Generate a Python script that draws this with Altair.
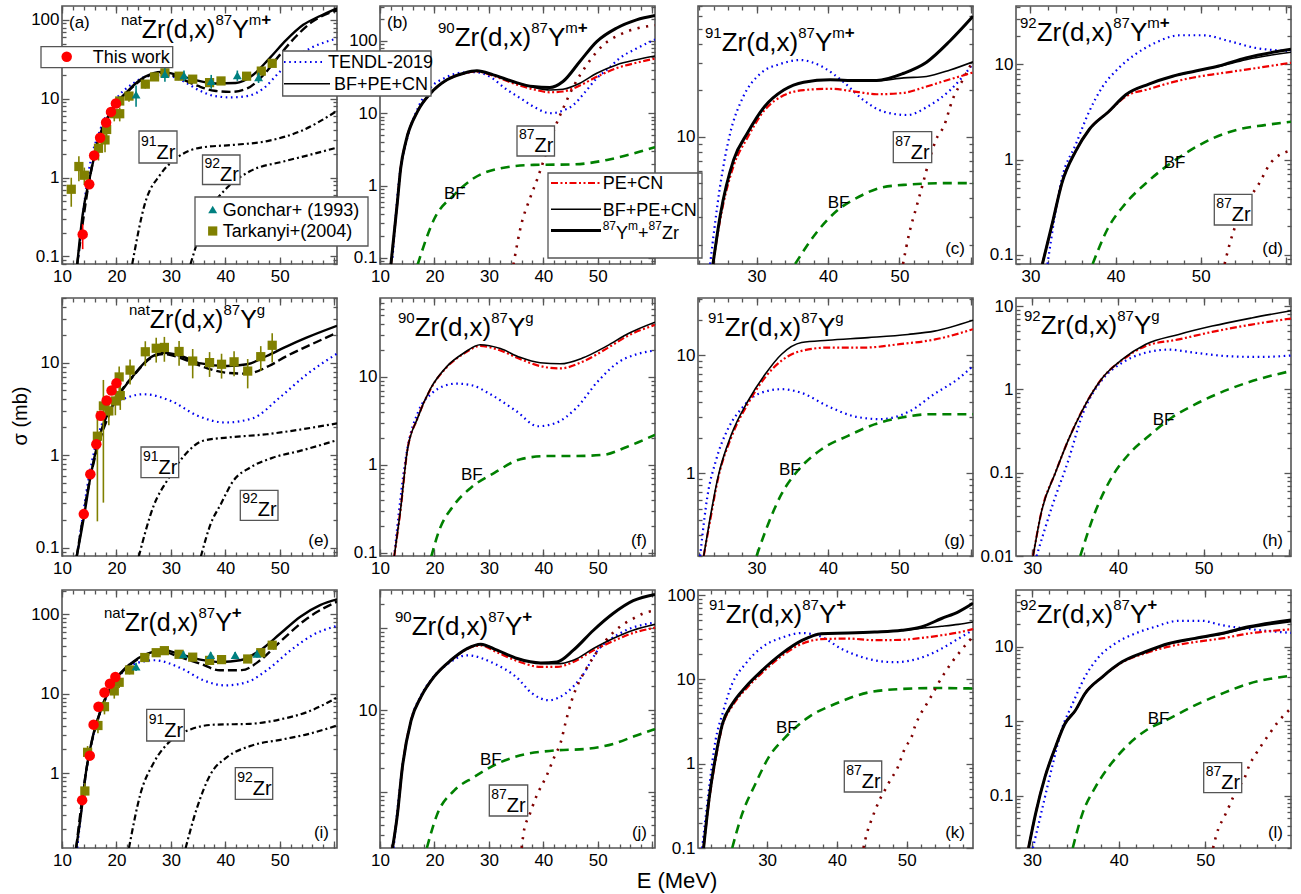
import altair as alt
import pandas as pd

FONT = "Liberation Sans"
W, H = 275, 258
FRAME = "#555555"

# ===================== DATA =====================
# (a) natZr(d,x)87Ym+
a_sol_E = [12.8, 13.8, 15.1, 16.6, 19.1, 22.2, 25.2, 28.3, 31.4, 34.5, 38.2, 41.9, 45.0, 48.1, 51.2, 54.3, 57.4, 60.5]
a_sol = [0.08, 0.34, 1.0, 2.9, 7.1, 12.8, 18.9, 21.9, 19.8, 17.2, 15.6, 15.8, 19.8, 32.5, 55.7, 86.5, 112, 140]
a_dsh_E = [12.8, 15.1, 19.1, 22.2, 25.2, 28.3, 31.4, 35.0, 38.0, 41.0, 44.0, 47.0, 50.0, 53.0, 56.0, 60.5]
a_dsh = [0.08, 1.0, 7.0, 12.5, 18.5, 21.3, 18.5, 14.5, 12.6, 12.2, 13.5, 20, 36, 62, 95, 132]
a_ten_E = [13, 15, 17, 20, 23, 26, 29, 32, 35, 38, 41, 44, 47, 50, 53, 56, 60.5]
a_ten = [0.1, 1.3, 4.0, 10, 15.5, 19.5, 20, 17, 13, 10.8, 10.4, 10.8, 13.5, 22, 34, 45, 58]
a_z91_E = [22.9, 25.2, 28.1, 31.2, 35.5, 41.6, 47.7, 53.9, 60.5]
a_z91 = [0.08, 0.46, 1.1, 1.8, 2.4, 2.6, 2.9, 3.9, 7.0]
a_z92_E = [33.6, 36.7, 40.3, 44.5, 50.7, 55.0, 60.5]
a_z92 = [0.08, 0.34, 0.74, 1.2, 1.6, 1.9, 2.4]
a_tw_E = [13.8, 15.0, 15.9, 17.0, 18.1, 19.0, 19.9]
a_tw = [0.19, 0.82, 1.9, 3.2, 5.0, 6.8, 8.7]
a_tw_err = [0.35, 0.12, 0.1, 0.1, 0.1, 0.1, 0.1]
a_tk_E = [11.7, 13.1, 14.1, 16.7, 17.9, 18.2, 19.6, 20.6, 20.6, 22.3, 25.3, 27.0, 28.9, 31.5, 34.0, 37.1, 39.2, 43.9, 46.6, 48.6]
a_tk = [0.71, 1.38, 1.07, 2.35, 3.0, 4.07, 6.45, 9.35, 6.45, 10.8, 15.3, 18.9, 21.3, 19.3, 17.7, 16.0, 16.8, 19.3, 22.4, 28.1]
a_tk_err = [0.4, 0.35, 0.25, 0.3, 0.3, 0.25, 0.2, 0.15, 0.2, 0.15, 0.12, 0.1, 0.1, 0.1, 0.1, 0.1, 0.1, 0.1, 0.1, 0.1]
a_gn_E = [23.6, 28.9, 32.4, 37.4, 42.2, 46.1]
a_gn = [11.3, 20.5, 19.8, 16.7, 19.8, 18.6]
a_gn_err = [0.3, 0.2, 0.15, 0.2, 0.15, 0.15]

# (b) 90Zr(d,x)87Ym+
b_E = [12.0, 13.2, 13.8, 14.75, 16.9, 19.3, 22.3, 25.4, 27.8, 30.8, 34.4, 38.1, 41.2, 43.6, 46.7, 49.8, 53.4, 57.1, 60.5]
b_tot = [0.08, 0.6, 1.73, 4.06, 10.6, 18.9, 29, 35.8, 38.6, 34, 27.5, 23.4, 22.7, 27.5, 52, 98, 150, 196, 225]
b_bpc = [0.08, 0.6, 1.73, 4.06, 10.6, 18.9, 29, 35.8, 38.6, 34, 27.5, 23.0, 21.0, 21.5, 26, 35.8, 46.7, 55, 62]
b_pc = [0.08, 0.6, 1.73, 4.06, 10.6, 18.9, 29, 35.5, 37.8, 33, 26, 21.5, 19.5, 20, 24.2, 32, 42, 50, 57]
b_ten_E = [12.3, 13.5, 15, 17, 19.3, 22, 25, 27.5, 30.5, 33, 35.8, 38.5, 41.2, 43.5, 45.5, 47.5, 49.8, 52, 54, 57, 60.5]
b_ten = [0.1, 1.2, 4.5, 12, 22.7, 31, 36.5, 37, 31, 22, 16.1, 12, 10, 10.8, 13, 19, 30.5, 42, 57.8, 78, 105]
b_bf_E = [16.9, 20, 23.6, 27.2, 32.1, 38.2, 45.5, 51.7, 56, 60.5]
b_bf = [0.08, 0.35, 0.74, 1.26, 1.73, 1.93, 1.96, 2.26, 2.7, 3.4]
b_zr_E = [34.5, 36, 37.5, 39, 40.5, 42, 43.7, 45.6, 48, 51, 54, 57, 60.5]
b_zr = [0.08, 0.3, 0.65, 1.3, 2.8, 6, 12, 24, 47, 88, 122, 148, 165]

# (c) 91Zr(d,x)87Ym+
c_E = [23.9, 24.9, 26.8, 28.7, 31.1, 33.8, 36.6, 40.3, 44, 46.8, 50.6, 53.8, 57.1, 60.3]
c_tot = [1.5, 3.07, 7.1, 10.5, 15.6, 20, 22.5, 23.3, 23.1, 23.1, 25.7, 30.3, 41.7, 60]
c_bpc = [1.5, 3.07, 7.1, 10.5, 15.6, 20, 22.5, 23.3, 23.1, 23.0, 24.0, 24.5, 27, 30.5]
c_pc = [1.5, 2.9, 6.5, 9.8, 14.8, 18.5, 20, 20.4, 19.5, 18.8, 19.2, 21.1, 23.5, 26]
c_ten_E = [23.5, 24.9, 26.3, 28.1, 30.5, 33.3, 36.1, 38.9, 42.2, 45, 47.8, 51.1, 53.9, 57.1, 60.3]
c_ten = [1.5, 4.8, 10.5, 18, 25.5, 29.5, 31.3, 28.8, 22.5, 17.2, 14.5, 13.8, 15.6, 20, 29.5]
c_bf_E = [35.4, 38.4, 41.2, 44.4, 47.6, 51.4, 56, 60.3]
c_bf = [1.5, 2.4, 3.3, 4.1, 4.7, 4.9, 5.0, 5.0]
c_zr_E = [50.5, 51.4, 52.3, 53.2, 54.2, 55.1, 56.3, 57.4, 58.8, 60.3]
c_zr = [1.5, 2.4, 3.4, 4.8, 7.1, 9.5, 11.9, 17.2, 23, 31]

# (d) 92Zr(d,x)87Ym+
d_E = [31.4, 32.6, 33.7, 35.3, 36.9, 39.2, 41.2, 43.9, 46.7, 49.4, 52.1, 55.3, 60.6]
d_tot = [0.08, 0.22, 0.57, 1.22, 2.07, 3.2, 4.8, 6.2, 7.5, 8.5, 9.6, 11.7, 14.4]
d_bpc = [0.08, 0.22, 0.57, 1.22, 2.07, 3.2, 4.8, 6.2, 7.5, 8.5, 9.5, 11.2, 13.4]
d_pc = [0.08, 0.22, 0.57, 1.22, 2.07, 3.2, 4.6, 5.5, 6.5, 7.35, 8.0, 8.8, 10.4]
d_ten_E = [32.0, 33.7, 35.3, 36.9, 38.4, 40.4, 42.3, 44.7, 47.5, 50.3, 53.3, 56.4, 60.6]
d_ten = [0.08, 0.64, 1.43, 3.2, 5.7, 9.2, 12.7, 16.9, 20.2, 20.2, 17.6, 14.9, 13.8]
d_bf_E = [37.3, 39.1, 41.1, 43.8, 46.2, 48.9, 51.6, 54.4, 57.5, 60.6]
d_bf = [0.08, 0.19, 0.34, 0.59, 0.88, 1.27, 1.7, 2.07, 2.3, 2.5]
d_zr_E = [52.8, 53.4, 54.4, 55.2, 56.0, 56.8, 58.2, 60.6]
d_zr = [0.08, 0.13, 0.24, 0.34, 0.43, 0.55, 0.92, 1.25]

# (e) natZr(d,x)87Yg
e_sol_E = [12.7, 14, 15.2, 16.5, 17.6, 19.8, 23.3, 26.3, 28.7, 31.8, 35.5, 40.3, 44, 47.6, 51.3, 54.9, 60.5]
e_sol = [0.08, 0.21, 0.57, 1.3, 2.16, 3.85, 7.5, 11.4, 12.8, 11.8, 9.8, 9.2, 9.6, 11.8, 15, 18.6, 25]
e_dsh_E = [12.7, 15.2, 19.8, 23.3, 26.3, 28.7, 31.8, 35.5, 40, 44, 48, 51.3, 55, 60.5]
e_dsh = [0.08, 0.57, 3.85, 7.4, 11.2, 12.4, 11.2, 9.2, 7.8, 7.6, 9.2, 11.8, 15, 21]
e_ten_E = [13, 15, 17, 19.8, 22, 25, 30, 35, 40, 45, 50, 55, 60.5]
e_ten = [0.1, 0.6, 1.9, 3.6, 4.2, 4.55, 3.85, 2.65, 2.25, 2.5, 4.2, 7.5, 12.5]
e_z91_E = [24.1, 26.9, 29.3, 32.4, 35.9, 40.4, 47.6, 52.5, 60.5]
e_z91 = [0.08, 0.29, 0.53, 0.98, 1.43, 1.55, 1.68, 1.84, 2.2]
e_z92_E = [35.5, 37.3, 39.1, 41.5, 44.5, 48.8, 53.7, 60.5]
e_z92 = [0.08, 0.18, 0.29, 0.53, 0.73, 0.94, 1.11, 1.45]
e_tw_E = [14, 15.2, 16.3, 17.1, 18.2, 19.1, 20.0]
e_tw = [0.23, 0.62, 1.31, 2.66, 3.9, 5.0, 6.0]
e_tw_err = [0.1, 0.08, 0.08, 0.08, 0.08, 0.08, 0.08]
e_tk_E = [16.5, 17.6, 18.6, 19.8, 20.7, 20.5, 22.5, 25.3, 27.3, 28.8, 31.5, 34, 37.1, 39.3, 41.6, 44.1, 46.5, 48.6]
e_tk = [1.6, 3.4, 3.0, 3.85, 4.4, 7.0, 8.3, 13.1, 14.3, 14.6, 13.2, 10.4, 10, 9.6, 10.2, 8.1, 11.6, 15.4]
e_tk_err = [0.88, 0.91, 0.3, 0.3, 0.3, 0.3, 0.3, 0.3, 0.3, 0.3, 0.3, 0.35, 0.3, 0.3, 0.3, 0.35, 0.3, 0.35]

# (f) 90Zr(d,x)87Yg
f_E = [12.6, 13.8, 15, 16.9, 19.3, 22.3, 25.4, 28.4, 32.1, 35.7, 39.4, 43.1, 47.3, 51.6, 55.8, 60.5]
f_bpc = [0.09, 0.32, 1.43, 3.4, 7.4, 13.2, 18.7, 23.2, 21, 16.7, 14.5, 14.1, 16.5, 22.4, 31.6, 42]
f_pc = [0.09, 0.32, 1.43, 3.4, 7.3, 13, 18.4, 22.5, 20, 16, 13.3, 12.5, 15, 21, 30, 39]
f_ten_E = [12.6, 15, 17, 19.5, 21.5, 24, 27, 30, 35, 39, 42, 46, 50, 54, 57, 60.5]
f_ten = [0.09, 1.5, 4.0, 6.5, 7.8, 8.4, 8.0, 6.5, 4.1, 2.75, 2.95, 4.4, 8.9, 15, 18, 20]
f_bf_E = [19.4, 20.8, 23.6, 26.7, 31, 35.8, 40.7, 45.6, 51, 55.3, 60.5]
f_bf = [0.09, 0.175, 0.35, 0.55, 0.81, 1.16, 1.26, 1.26, 1.3, 1.6, 2.2]

# (g) 91Zr(d,x)87Yg
g_bpc_E = [22.6, 23.5, 24.6, 26.5, 28.8, 31.2, 33.5, 36.3, 40, 45.6, 51.2, 54.9, 60.3]
g_bpc = [0.2, 0.42, 0.93, 2.15, 4.1, 6.9, 10.2, 12.8, 13.4, 14.1, 15, 16, 19.8]
g_pc_E = [22.6, 23.5, 24.6, 26.5, 28.8, 31.2, 33.5, 36.3, 40, 45, 50, 55, 60.3]
g_pc = [0.2, 0.4, 0.9, 2.05, 3.9, 6.5, 9.0, 10.9, 11.6, 11.6, 12.4, 13.6, 16.6]
g_ten_E = [22.1, 23.1, 24.3, 26.1, 28, 30.2, 33.5, 36.3, 40, 44.1, 47.3, 51.2, 54.9, 58.2, 60.3]
g_ten = [0.2, 0.63, 1.28, 2.45, 3.6, 4.7, 5.16, 4.8, 3.7, 3.0, 2.88, 3.3, 4.7, 6.3, 8.1]
g_bf_E = [30, 31.6, 33.5, 35.8, 39.1, 42.8, 46.5, 50.3, 54.5, 60.3]
g_bf = [0.2, 0.37, 0.67, 1.06, 1.6, 2.08, 2.6, 2.97, 3.17, 3.17]

# (h) 92Zr(d,x)87Yg
h_E = [30.1, 31.1, 32.7, 34.3, 35.8, 38.2, 40.5, 43.2, 47.1, 51, 55.6, 60.2]
h_bpc = [0.01, 0.035, 0.1, 0.26, 0.55, 1.38, 2.29, 3.46, 4.57, 5.75, 7.2, 8.8]
h_pc = [0.01, 0.035, 0.1, 0.26, 0.55, 1.38, 2.25, 3.3, 3.98, 4.9, 6.0, 7.1]
h_ten_E = [30.5, 32.4, 34.3, 35.8, 38.2, 40.5, 43.2, 45.9, 49, 52.9, 56.5, 60.2]
h_ten = [0.01, 0.042, 0.15, 0.48, 1.32, 2.09, 2.75, 3.0, 2.75, 2.5, 2.45, 2.55]
h_bf_E = [35.6, 37.4, 39.3, 41.3, 43.6, 46.3, 49, 52.9, 56.8, 60.2]
h_bf = [0.01, 0.035, 0.089, 0.168, 0.276, 0.46, 0.66, 1.0, 1.36, 1.66]

# (i) natZr(d,x)87Y+
i_sol_E = [12.6, 13.5, 14.4, 15.6, 17.1, 19.5, 22.6, 25.7, 28.7, 31.7, 35.4, 39.1, 42.7, 46.4, 50.1, 53.7, 57.4, 60.5]
i_sol = [0.115, 0.31, 1.03, 2.8, 6.2, 14, 24.1, 32.2, 35.4, 31.5, 27, 25.2, 26.5, 35.4, 57.5, 93, 131, 155]
i_dsh_E = [12.6, 14.4, 17.1, 19.5, 22.6, 25.7, 28.7, 31.7, 35.4, 39, 43, 46.4, 50, 55, 60.5]
i_dsh = [0.115, 1.03, 6.2, 13.8, 23.5, 31, 33.5, 29, 24, 19.8, 19.9, 26.5, 45, 89, 145]
i_ten_E = [12.8, 14.4, 17.1, 19.5, 22.6, 27, 32, 36, 40, 44, 48, 52, 56, 60.5]
i_ten = [0.115, 1.0, 6.0, 13, 22.9, 26.5, 20.8, 14.8, 12.8, 14.1, 20.8, 35.4, 54.8, 72]
i_z91_E = [22.3, 24.4, 26.9, 30, 33.7, 38, 44.5, 50.8, 55, 60.5]
i_z91 = [0.115, 0.55, 1.38, 2.6, 3.6, 4.1, 4.2, 4.9, 5.9, 9.0]
i_z92_E = [32.7, 34.8, 37.3, 40.3, 44.5, 50.8, 55, 60.5]
i_z92 = [0.115, 0.37, 0.98, 1.6, 2.2, 2.7, 3.1, 4.0]
i_tw_E = [13.7, 15.1, 15.8, 16.7, 17.8, 18.8, 19.8]
i_tw = [0.46, 1.67, 4.1, 6.9, 10.4, 13.4, 16.3]
i_tw_err = [0.1, 0.08, 0.08, 0.08, 0.08, 0.08, 0.08]
i_tk_E = [14.2, 14.7, 16.6, 17.8, 19.6, 20.5, 22.4, 25.2, 27.3, 28.8, 31.5, 34, 37.1, 39.3, 44.1, 46.5, 48.6]
i_tk = [0.6, 1.84, 4.0, 6.9, 10.9, 14, 20, 28.7, 33, 35, 31.5, 29, 26.4, 27, 27.5, 33, 41]
i_tk_err = [0.25, 0.2, 0.2, 0.2, 0.2, 0.15, 0.12, 0.1, 0.1, 0.1, 0.1, 0.1, 0.1, 0.1, 0.1, 0.1, 0.1]
i_gn_E = [23.6, 32.3, 37.3, 41.8, 45.8]
i_gn = [22, 31.5, 30.7, 30.7, 32]
i_gn_err = [0.12, 0.1, 0.1, 0.1, 0.1]

# (j) 90Zr(d,x)87Y+
j_E = [12.3, 13.2, 14.1, 15.7, 17.5, 19.9, 23, 26, 28.5, 31.5, 35.2, 39.5, 42.5, 45.5, 49.2, 52.8, 56.5, 60.5]
j_tot = [0.21, 0.54, 2.0, 7.5, 14.5, 25.6, 40.9, 56.8, 64.2, 54.2, 42.9, 37.9, 39, 54.2, 95, 152, 218, 260]
j_bpc = [0.21, 0.54, 2.0, 7.5, 14.5, 25.6, 40.9, 56.8, 64.2, 54.2, 42.9, 37.5, 37.0, 40.9, 56.8, 75.2, 95, 112]
j_pc = [0.21, 0.54, 2.0, 7.5, 14.5, 25.6, 40.5, 56, 62, 51, 40, 34, 34, 39, 54, 70, 88, 102]
j_ten_E = [12.5, 14.1, 15.7, 17.5, 19.9, 22, 26, 31, 35, 38, 41, 44, 47, 50, 54, 60.5]
j_ten = [0.21, 2.0, 7.6, 15, 26, 35, 47, 37.2, 25.6, 16, 13.3, 16, 25.6, 54, 86.6, 118]
j_bf_E = [18.6, 20.5, 23.6, 27.2, 32.1, 37, 41.9, 48, 52.8, 57.1, 60.5]
j_bf = [0.21, 0.54, 1.05, 1.53, 2.33, 2.95, 3.24, 3.4, 3.9, 4.95, 5.9]
j_zr_E = [36, 36.5, 37.3, 38.7, 40.6, 42.2, 43.1, 44.1, 45.2, 46.7, 47.9, 49.4, 51.5, 54, 56.5, 58.3, 60.5]
j_zr = [0.21, 0.36, 0.5, 0.89, 1.6, 2.9, 3.9, 7.2, 13.2, 23.3, 32.4, 47, 71.9, 104, 132, 152, 165]

# (k) 91Zr(d,x)87Y+
k_E = [20.9, 21.7, 22.6, 23.6, 25, 26.9, 29.3, 32.1, 35, 37.8, 41.6, 45.4, 49.3, 52.1, 55, 57.4, 59.5]
k_tot = [0.1, 0.39, 1.18, 2.97, 5.1, 8.1, 12.8, 20.2, 29, 34.9, 35.5, 36.5, 38.3, 41.9, 52.8, 63.3, 80]
k_bpc = [0.1, 0.39, 1.18, 2.97, 5.1, 8.1, 12.8, 20.2, 29, 34.9, 35.5, 36.5, 38.0, 40.5, 42.7, 45, 48]
k_pc = [0.1, 0.37, 1.1, 2.8, 4.8, 7.6, 12, 19, 26.5, 30, 30.5, 29.2, 29.5, 31, 33.4, 36, 39.5]
k_ten_E = [20.7, 21.7, 22.6, 23.6, 25, 26.9, 29.3, 32.1, 35, 37.8, 40.6, 44.4, 48.2, 52.1, 55, 57.4, 59.5]
k_ten = [0.1, 0.52, 1.87, 3.9, 8.9, 15.3, 24.2, 31.3, 35.5, 32, 23.2, 17.6, 16, 18.1, 23.2, 30.4, 38.5]
k_bf_E = [25, 26.4, 28.3, 30.2, 32.6, 35.9, 39.7, 44.5, 49.3, 54.1, 59.5]
k_bf = [0.1, 0.25, 0.57, 1.18, 2.05, 3.55, 5.1, 7.0, 7.7, 7.9, 7.8]
k_zr_E = [43.8, 44.3, 44.9, 45.4, 46.1, 46.9, 47.7, 48.6, 49.8, 50.7, 51.2, 52, 52.8, 53.7, 54.5, 55.4, 56.5, 57.7, 59, 59.5]
k_zr = [0.1, 0.15, 0.21, 0.27, 0.37, 0.49, 0.65, 0.86, 1.56, 2.07, 2.8, 3.9, 5, 6.7, 8.9, 11.8, 16.1, 21.6, 29, 32]

# (l) 92Zr(d,x)87Y+
l_E = [29.6, 30.4, 31.5, 32.7, 33.8, 35, 36.1, 38.1, 40.4, 43.1, 45.8, 48.8, 51.9, 55, 59.9]
l_tot = [0.02, 0.057, 0.18, 0.45, 0.93, 1.4, 2.35, 3.94, 6.3, 8.6, 11.1, 13.0, 15.1, 18.6, 22.9]
l_bpc = [0.02, 0.057, 0.18, 0.45, 0.93, 1.4, 2.35, 3.94, 6.3, 8.6, 11.0, 12.9, 14.9, 18.0, 21.8]
l_pc = [0.02, 0.057, 0.18, 0.45, 0.93, 1.4, 2.35, 3.94, 6.2, 8.2, 10.1, 11.6, 13.0, 15.1, 17.2]
l_ten_E = [30.1, 31.2, 32.3, 33.5, 34.6, 36.1, 37.7, 39.6, 41.9, 44.2, 46.9, 49.6, 51.9, 54.5, 59.9]
l_ten = [0.02, 0.069, 0.24, 0.83, 1.64, 3.94, 7.3, 11.1, 15.1, 18.6, 22.4, 22.4, 19.6, 17.7, 15.4]
l_bf_E = [34.7, 35.8, 37.3, 38.8, 40.8, 43.1, 45.8, 48.8, 51.9, 55, 59.9]
l_bf = [0.02, 0.057, 0.13, 0.24, 0.45, 0.75, 1.08, 1.64, 2.35, 3.2, 4.1]
l_zr_E = [50.9, 51.5, 52.1, 52.6, 53.2, 53.8, 54.5, 55.1, 55.8, 56.6, 57.4, 58.3, 59.9]
l_zr = [0.02, 0.036, 0.05, 0.066, 0.095, 0.13, 0.17, 0.26, 0.36, 0.5, 0.68, 0.95, 1.5]

# ===================== STYLES =====================
STY = {
    "ten": dict(color="#0000ee", strokeWidth=2.2, strokeDash=[1.6, 3.6]),
    "pc": dict(color="#ee0000", strokeWidth=2.2, strokeDash=[7, 2.5, 2, 2.5, 2, 2.5]),
    "bpc": dict(color="black", strokeWidth=1.6),
    "tot": dict(color="black", strokeWidth=3.0),
    "bf": dict(color="#008000", strokeWidth=2.6, strokeDash=[9, 6]),
    "zr": dict(color="#800000", strokeWidth=2.6, strokeDash=[2.2, 6.5]),
    "sol": dict(color="black", strokeWidth=2.4),
    "dsh": dict(color="black", strokeWidth=2.4, strokeDash=[9, 4]),
    "iso": dict(color="black", strokeWidth=2.2, strokeDash=[6, 3, 2, 3]),
}

CW = {"0": 556, "1": 556, "2": 556, "3": 556, "4": 556, "5": 556, "6": 556, "7": 556, "8": 556, "9": 556,
      "n": 556, "a": 556, "t": 278, "Z": 611, "r": 333, "(": 333, ")": 333, "d": 556, ",": 278,
      "x": 500, "Y": 667, "m": 833, "g": 556, "+": 584, " ": 278}

ONE = pd.DataFrame({"k": [0]})


def tw(s, size):
    return sum(CW.get(ch, 556) for ch in s) * size / 1000.0


def txt(x, y, s, size, align="left", bold=False, angle=None, baseline="alphabetic"):
    kw = dict(text=s, font=FONT, fontSize=size, align=align, baseline=baseline, color="black",
              fontWeight="bold" if bold else "normal")
    if angle is not None:
        kw["angle"] = angle
    return alt.Chart(ONE).mark_text(**kw).encode(x=alt.value(x), y=alt.value(y))


def rich(segs, x0, base):
    out, x = [], x0
    for s, size, rise, bold in segs:
        out.append(txt(x, base - rise, s, size, bold=bold))
        x += tw(s, size)
    return out


def box(x1, y1, x2, y2):
    return alt.Chart(ONE).mark_rect(fill="white", stroke=FRAME, strokeWidth=1.3).encode(
        x=alt.value(x1), x2=alt.value(x2), y=alt.value(y1), y2=alt.value(y2))


def iso_box(num, x1, y1, x2, y2):
    return [box(x1, y1, x2, y2)] + rich([(num, 14, 13, False), ("Zr", 20, 0, False)], x1 + 2, y2 - 4)


def sample(x1, x2, y, sty):
    return alt.Chart(ONE).mark_rule(**STY[sty]).encode(x=alt.value(x1), x2=alt.value(x2), y=alt.value(y))


def marker(x, y, shape, color, size):
    return alt.Chart(ONE).mark_point(shape=shape, filled=True, size=size, color=color, opacity=1).encode(
        x=alt.value(x), y=alt.value(y))


def lin_ticks(xd):
    maj = [v for v in range(0, 70, 10) if xd[0] <= v <= xd[1]]
    mnr = [v for v in range(0, 70, 2) if xd[0] <= v <= xd[1]]
    return maj, mnr


def log_ticks(yd):
    maj, mnr = [], []
    for n in range(-3, 4):
        d = 10.0 ** n
        if yd[0] <= d <= yd[1]:
            maj.append(round(d, 6))
        for k in range(2, 10):
            v = round(k * d, 6)
            if yd[0] <= v <= yd[1]:
                mnr.append(v)
    return maj, mnr


def tick_axis(orient, values, size):
    return alt.Axis(orient=orient, values=values, labels=False, domain=False, grid=False, ticks=True,
                    tickSize={"expr": str(-size)}, tickColor=FRAME, tickWidth=1.3, title=None)


def make_panel(p):
    xs = alt.Scale(domain=p["xd"], nice=False, zero=False)
    ys = alt.Scale(type="log", domain=p["yd"], nice=False)
    anchor = pd.DataFrame({"E": [p["xd"][0]], "v": [p["yd"][0]]})
    layers = [alt.Chart(anchor).mark_point(opacity=0).encode(
        x=alt.X("E:Q", scale=xs, axis=alt.Axis(
            orient="bottom", values=p["xlab"], format="d", ticks=False, domain=False, grid=False,
            labelFontSize=17, labelFont=FONT, labelColor="black", labelPadding=4,
            labelOverlap=False, labelFlush=False, title=None)),
        y=alt.Y("v:Q", scale=ys, axis=alt.Axis(
            orient="left", values=p["ylab"], format="~g", ticks=False, domain=False, grid=False,
            labelFontSize=17, labelFont=FONT, labelColor="black", labelPadding=3,
            labelOverlap=False, labelFlush=False, labelBound=False, title=None)))]
    xM, xm = lin_ticks(p["xd"])
    yM, ym = log_ticks(p["yd"])
    for xo, yo, xv, yv, sz in [("bottom", "left", xM, yM, 7), ("bottom", "left", xm, ym, 4),
                               ("top", "right", xM, yM, 7), ("top", "right", xm, ym, 4)]:
        layers.append(alt.Chart(anchor).mark_point(opacity=0).encode(
            x=alt.X("E:Q", scale=xs, axis=tick_axis(xo, xv, sz)),
            y=alt.Y("v:Q", scale=ys, axis=tick_axis(yo, yv, sz))))
    for sty, E, v in p["lines"]:
        layers.append(alt.Chart(pd.DataFrame({"E": E, "v": v})).mark_line(
            clip=True, interpolate="monotone", **STY[sty]).encode(
            x=alt.X("E:Q", scale=xs, axis=None), y=alt.Y("v:Q", scale=ys, axis=None)))
    for E, v, err, shape, color, size in p.get("points", []):
        df = pd.DataFrame({"E": E, "v": v,
                           "lo": [a * (1 - e) for a, e in zip(v, err)],
                           "hi": [a * (1 + e) for a, e in zip(v, err)]})
        layers.append(alt.Chart(df).mark_rule(color=color, strokeWidth=1.6, clip=True).encode(
            x=alt.X("E:Q", scale=xs, axis=None), y=alt.Y("lo:Q", scale=ys, axis=None), y2="hi:Q"))
        layers.append(alt.Chart(df).mark_point(shape=shape, filled=True, size=size, color=color,
                                               opacity=1, clip=True).encode(
            x=alt.X("E:Q", scale=xs, axis=None), y=alt.Y("v:Q", scale=ys, axis=None)))
    layers += p.get("extras", [])
    # title
    pre, suf = p["title"]
    big = p["tsize"]
    segs = [(pre, 15, 13, False), ("Zr(d,x)", big, 0, False), ("87", 15, 13, False), ("Y", big, 0, False)]
    for s in suf:
        segs.append((s, 17 if s == "+" else 15, 13, s == "+"))
    layers += rich(segs, p["tpos"][0], p["tpos"][1])
    lab, where = p["plabel"]
    if where == "tl":
        layers.append(txt(7, 22, lab, 17))
    else:
        layers.append(txt(267, 248, lab, 17, align="right"))
    return alt.layer(*layers).properties(width=W, height=H).resolve_axis(x="independent", y="independent")


BIG_XD = [10, 60.5]
X10 = [10, 20, 30, 40, 50]
X30 = [30, 40, 50]
SQ = ("square", "#808000", 85)
TR = ("triangle-up", "#008080", 80)
CI = ("circle", "#ff0000", 110)

panels = [
    dict(xd=BIG_XD, yd=[0.08, 150], xlab=X10, ylab=[0.1, 1, 10, 100], title=("nat", ["m", "+"]), tsize=25,
         tpos=(59, 32), plabel=("(a)", "tl"),
         lines=[("ten", a_ten_E, a_ten), ("iso", a_z91_E, a_z91), ("iso", a_z92_E, a_z92),
                ("dsh", a_dsh_E, a_dsh), ("sol", a_sol_E, a_sol)],
         points=[(a_tk_E, a_tk, a_tk_err) + SQ, (a_gn_E, a_gn, a_gn_err) + TR, (a_tw_E, a_tw, a_tw_err) + CI],
         extras=iso_box("91", 77, 125, 115, 157) + iso_box("92", 140.5, 149, 178, 178.5)
         + [box(-21, 40.7, 110.7, 61.7), marker(4.7, 50.7, "circle", "#ff0000", 110), txt(30.7, 57, "This work", 18),
            box(133, 191, 306, 240), marker(150.7, 203.5, "triangle-up", "#008080", 80),
            txt(160.7, 209.5, "Gonchar+ (1993)", 18), marker(150.7, 225, "square", "#808000", 85),
            txt(160.7, 231, "Tarkanyi+(2004)", 18)]),
    dict(xd=BIG_XD, yd=[0.082, 305], xlab=X10, ylab=[0.1, 1, 10, 100], title=("90", ["m", "+"]), tsize=26,
         tpos=(58, 40), plabel=("(b)", "tl"),
         lines=[("ten", b_ten_E, b_ten), ("bf", b_bf_E, b_bf), ("zr", b_zr_E, b_zr), ("pc", b_E, b_pc),
                ("bpc", b_E, b_bpc), ("tot", b_E, b_tot)],
         extras=iso_box("87", 137, 120, 174.5, 150) + [txt(64, 193, "BF", 17)]
         + [box(-97.3, 45, 51, 90), sample(-96, -56, 56, "ten"), txt(-52, 62, "TENDL-2019", 18),
            sample(-96, -50, 77.7, "bpc"), txt(-46, 84, "BF+PE+CN", 18),
            box(168, 167, 322, 252), sample(171, 221, 177, "pc"), txt(222.7, 183.3, "PE+CN", 18),
            sample(171, 221, 203.3, "bpc"), txt(222.7, 210, "BF+PE+CN", 18),
            sample(171, 221, 224.5, "tot")]
         + rich([("87", 12, 9, False), ("Y", 18, 0, False), ("m", 12, 9, False), ("+", 18, 0, False),
                 ("87", 12, 9, False), ("Zr", 18, 0, False)], 222.7, 233.3)),
    dict(xd=[21.8, 60.3], yd=[1.5, 70], xlab=X30, ylab=[10], title=("91", ["m", "+"]), tsize=26,
         tpos=(7, 45), plabel=("(c)", "br"),
         lines=[("ten", c_ten_E, c_ten), ("bf", c_bf_E, c_bf), ("zr", c_zr_E, c_zr), ("pc", c_E, c_pc),
                ("bpc", c_E, c_bpc), ("tot", c_E, c_tot)],
         extras=iso_box("87", 195.3, 125.7, 233.7, 156.7) + [txt(129.7, 201.7, "BF", 17)]),
    dict(xd=[28.3, 60.6], yd=[0.08, 41], xlab=X30, ylab=[0.1, 1, 10], title=("92", ["m", "+"]), tsize=26,
         tpos=(4, 34.5), plabel=("(d)", "br"),
         lines=[("ten", d_ten_E, d_ten), ("bf", d_bf_E, d_bf), ("zr", d_zr_E, d_zr), ("pc", d_E, d_pc),
                ("bpc", d_E, d_bpc), ("tot", d_E, d_tot)],
         extras=iso_box("87", 198.3, 188.3, 236, 219) + [txt(147.7, 161.7, "BF", 17)]),
    dict(xd=BIG_XD, yd=[0.081, 50], xlab=X10, ylab=[0.1, 1, 10], title=("nat", ["g"]), tsize=25,
         tpos=(67, 29.5), plabel=("(e)", "br"),
         lines=[("ten", e_ten_E, e_ten), ("iso", e_z91_E, e_z91), ("iso", e_z92_E, e_z92),
                ("dsh", e_dsh_E, e_dsh), ("sol", e_sol_E, e_sol)],
         points=[(e_tk_E, e_tk, e_tk_err) + SQ, (e_tw_E, e_tw, e_tw_err) + CI],
         extras=iso_box("91", 79, 149, 116.7, 179.7) + iso_box("92", 178.3, 192.3, 216, 222.3)
         + [txt(-41, 118, "σ (mb)", 20, align="center", angle=270, baseline="middle")]),
    dict(xd=BIG_XD, yd=[0.092, 79], xlab=X10, ylab=[0.1, 1, 10], title=("90", ["g"]), tsize=26,
         tpos=(18, 37.5), plabel=("(f)", "br"),
         lines=[("ten", f_ten_E, f_ten), ("bf", f_bf_E, f_bf), ("pc", f_E, f_pc), ("bpc", f_E, f_bpc)],
         extras=[txt(81, 182, "BF", 17)]),
    dict(xd=[21.8, 60.3], yd=[0.2, 30.5], xlab=X30, ylab=[1, 10], title=("91", ["g"]), tsize=26,
         tpos=(10, 37.5), plabel=("(g)", "br"),
         lines=[("ten", g_ten_E, g_ten), ("bf", g_bf_E, g_bf), ("pc", g_pc_E, g_pc), ("bpc", g_bpc_E, g_bpc)],
         extras=[txt(81, 177.3, "BF", 17)]),
    dict(xd=[28.1, 60.2], yd=[0.01, 12.5], xlab=X30, ylab=[0.01, 0.1, 1, 10], title=("92", ["g"]), tsize=26,
         tpos=(8, 36.3), plabel=("(h)", "br"),
         lines=[("ten", h_ten_E, h_ten), ("bf", h_bf_E, h_bf), ("pc", h_E, h_pc), ("bpc", h_E, h_bpc)],
         extras=[txt(136.7, 127, "BF", 17)]),
    dict(xd=BIG_XD, yd=[0.115, 203], xlab=X10, ylab=[1, 10, 100], title=("nat", ["+"]), tsize=25,
         tpos=(42, 41), plabel=("(i)", "br"),
         lines=[("ten", i_ten_E, i_ten), ("iso", i_z91_E, i_z91), ("iso", i_z92_E, i_z92),
                ("dsh", i_dsh_E, i_dsh), ("sol", i_sol_E, i_sol)],
         points=[(i_tk_E, i_tk, i_tk_err) + SQ, (i_gn_E, i_gn, i_gn_err) + TR, (i_tw_E, i_tw, i_tw_err) + CI],
         extras=iso_box("91", 84.7, 119.3, 122.3, 151) + iso_box("92", 173.3, 177.7, 210.7, 209.3)),
    dict(xd=BIG_XD, yd=[0.21, 294], xlab=X10, ylab=[10], title=("90", ["+"]), tsize=26,
         tpos=(15, 45), plabel=("(j)", "br"),
         lines=[("ten", j_ten_E, j_ten), ("bf", j_bf_E, j_bf), ("zr", j_zr_E, j_zr), ("pc", j_E, j_pc),
                ("bpc", j_E, j_bpc), ("tot", j_E, j_tot)],
         extras=[txt(100, 175, "BF", 17)] + iso_box("87", 109.3, 195, 147.7, 226)),
    dict(xd=[20.1, 59.5], yd=[0.1, 115], xlab=X30, ylab=[0.1, 1, 10, 100], title=("91", ["+"]), tsize=26,
         tpos=(11, 33.3), plabel=("(k)", "br"),
         lines=[("ten", k_ten_E, k_ten), ("bf", k_bf_E, k_bf), ("zr", k_zr_E, k_zr), ("pc", k_E, k_pc),
                ("bpc", k_E, k_bpc), ("tot", k_E, k_tot)],
         extras=[txt(78, 143.3, "BF", 17)] + iso_box("87", 146.3, 171, 183.7, 202)
         + [txt(-21, 298, "E (MeV)", 22, align="center")]),
    dict(xd=[28.15, 59.9], yd=[0.02, 58], xlab=X30, ylab=[0.1, 1, 10], title=("92", ["+"]), tsize=26,
         tpos=(4, 33.3), plabel=("(l)", "br"),
         lines=[("ten", l_ten_E, l_ten), ("bf", l_bf_E, l_bf), ("zr", l_zr_E, l_zr), ("pc", l_E, l_pc),
                ("bpc", l_E, l_bpc), ("tot", l_E, l_tot)],
         extras=[txt(131.7, 134.3, "BF", 17)] + iso_box("87", 187.7, 172.7, 225.7, 202.7)),
]

chart = alt.concat(
    *[make_panel(p) for p in panels],
    columns=4,
    spacing={"row": 34, "column": 43},
    bounds="flush",
).properties(
    padding={"left": 10, "top": 4, "right": 5, "bottom": 3},
    background="white",
).configure_view(stroke=FRAME, strokeWidth=1.6)

chart.save("out.html", embed_options={"renderer": "svg", "actions": False})
